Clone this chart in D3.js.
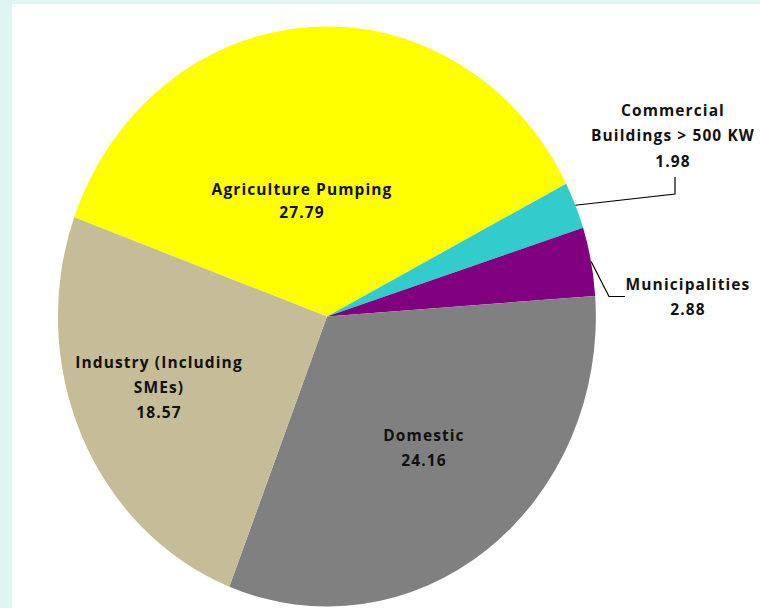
<!DOCTYPE html>
<html>
<head>
<meta charset="utf-8">
<script src="https://cdn.jsdelivr.net/npm/d3@7"></script>
<style>
    body { margin: 0; background: #dff5f1; }
    #chart { width: 760px; height: 608px; }
    .slice-label { font-family: "Open Sans", sans-serif; font-weight: 700; font-size: 15.5px; letter-spacing: 1.1px; fill: #111; }
</style>
</head>
<body>
<div id="chart"></div>
<script>
const categories = ["Agriculture Pumping", "Commercial Buildings > 500 KW", "Municipalities", "Domestic", "Industry (Including SMEs)"];
const values = [27.79, 1.98, 2.88, 24.16, 18.57];
const colors = ["#ffff00", "#33cccc", "#800080", "#808080", "#c4bd97"];

// label lines as shown, and where each label sits (offset from pie centre)
const labelLines = [
    ["Agriculture Pumping", "27.79"],
    ["Commercial", "Buildings > 500 KW", "1.98"],
    ["Municipalities", "2.88"],
    ["Domestic", "24.16"],
    ["Industry (Including", "SMEs)", "18.57"]
];
const labelPos = [[-25, -122], [346, -201], [361, -27], [97, 124], [-168, 51]];
const lineGap = [23, 25.5, 25, 25, 25];

function drawChart() {
    d3.select("#chart").html("");

    const svg = d3.select("#chart")
        .append("svg")
        .attr("width", 760)
        .attr("height", 608);

    // white plot area inside the cyan frame
    svg.append("rect")
        .attr("x", 12)
        .attr("y", 4)
        .attr("width", 748)
        .attr("height", 604)
        .attr("fill", "#fff");

    const cx = 327, cy = 316.5;
    const rx = 269, ry = 290;

    const start = -70 * Math.PI / 180;
    const pie = d3.pie()
        .sort(null)
        .startAngle(start)
        .endAngle(start + 2 * Math.PI);

    const arcs = pie(values);
    const arc = d3.arc().innerRadius(0).outerRadius(1);

    const g = svg.append("g")
        .attr("transform", `translate(${cx},${cy})`);

    g.append("g")
        .attr("transform", `scale(${rx},${ry})`)
        .selectAll("path")
        .data(arcs)
        .enter()
        .append("path")
        .attr("d", arc)
        .attr("fill", (d, i) => colors[i]);

    // point on the rim at a slice's middle angle
    const rim = d => {
        const a = (d.startAngle + d.endAngle) / 2;
        return [Math.sin(a) * rx, -Math.cos(a) * ry];
    };

    // leader lines for the two small slices
    const leaders = [
        { i: 1, path: p => [p, [348, -122.5], [348, -139.5]] },
        { i: 2, path: p => [p, [282, -20], [298, -20]] }
    ];
    leaders.forEach(l => {
        g.append("path")
            .attr("d", d3.line()(l.path(rim(arcs[l.i]))))
            .attr("fill", "none")
            .attr("stroke", "#000")
            .attr("stroke-width", 1.2);
    });

    // labels
    labelLines.forEach((lines, i) => {
        const t = g.append("text")
            .attr("class", "slice-label")
            .attr("text-anchor", "middle")
            .attr("x", labelPos[i][0])
            .attr("y", labelPos[i][1]);
        lines.forEach((s, j) => {
            t.append("tspan")
                .attr("x", labelPos[i][0])
                .attr("dy", j === 0 ? 0 : lineGap[i])
                .text(s);
        });
    });
}

drawChart();
</script>
</body>
</html>
